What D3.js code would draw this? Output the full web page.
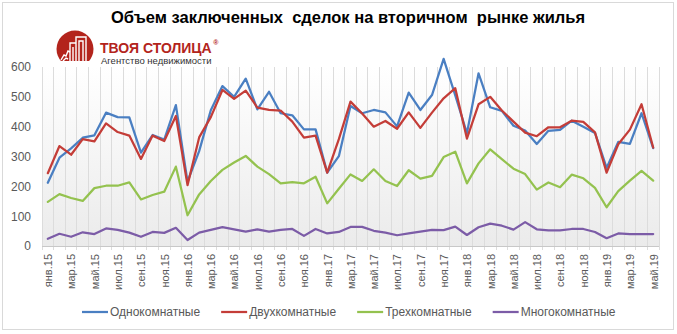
<!DOCTYPE html>
<html><head><meta charset="utf-8">
<script src="https://cdn.jsdelivr.net/npm/d3@7"></script>
<style>
body{margin:0;background:#fff}
svg{display:block}
text{font-family:"Liberation Sans",Arial,sans-serif}
</style>
</head><body>
<svg id="c" width="677" height="334"></svg>
<script>
const categories = [
 "янв.15","фев.15","мар.15","апр.15","май.15","июн.15","июл.15","авг.15","сен.15","окт.15","ноя.15","дек.15",
 "янв.16","фев.16","мар.16","апр.16","май.16","июн.16","июл.16","авг.16","сен.16","окт.16","ноя.16","дек.16",
 "янв.17","фев.17","мар.17","апр.17","май.17","июн.17","июл.17","авг.17","сен.17","окт.17","ноя.17","дек.17",
 "янв.18","фев.18","мар.18","апр.18","май.18","июн.18","июл.18","авг.18","сен.18","окт.18","ноя.18","дек.18",
 "янв.19","фев.19","мар.19","апр.19","май.19"];
const oneRoom = [212,296,327,363,371,447,432,431,313,372,357,472,
 216,318,455,536,500,561,458,517,445,438,391,391,
 246,301,469,445,456,448,401,514,456,506,627,505,
 378,579,465,453,403,387,342,386,389,420,400,379,
 262,349,342,445,328];
const twoRoom = [244,335,306,358,351,411,382,370,292,370,352,436,
 204,364,432,523,493,521,464,456,454,417,363,370,
 246,358,484,444,400,419,393,448,396,447,495,529,
 360,475,500,454,417,380,368,398,398,420,416,381,
 246,341,390,475,330];
const threeRoom = [148,174,161,151,194,202,202,213,156,171,182,266,
 103,173,218,255,280,302,266,241,210,214,210,232,
 143,192,240,218,257,218,201,254,226,235,298,316,
 210,277,324,291,259,241,189,213,197,239,227,195,
 130,184,219,252,219];
const multiRoom = [24,41,31,46,40,59,54,45,31,47,44,61,
 20,45,54,63,56,48,56,48,54,57,34,57,
 42,47,64,64,51,45,36,42,48,54,53,65,
 37,63,75,68,55,80,56,52,52,57,57,47,
 26,42,40,40,40];
const seriesNames = ["Однокомнатные","Двухкомнатные","Трехкомнатные","Многокомнатные"];
const seriesColors = ["#4a7fc2","#c43d38","#94c24f","#7c5ca7"];
const yTicks = [0,100,200,300,400,500,600];
const xTickLabels = categories.filter((c,i)=>i%2===0);
const titleText = "Объем заключенных  сделок на вторичном  рынке жилья";

const svg = d3.select("#c");
const W=677,H=334;
const plot = {l:42,r:659,t:67,b:246};

svg.append("rect").attr("x",2.5).attr("y",2.5).attr("width",W-6).attr("height",H-7)
  .attr("fill","#fff").attr("stroke","#d9d9d9");

const defs = svg.append("defs");
const grad = defs.append("linearGradient").attr("id","bg").attr("x1",0).attr("y1",0).attr("x2",0).attr("y2",1);
grad.append("stop").attr("offset","0%").attr("stop-color","#ffffff");
grad.append("stop").attr("offset","100%").attr("stop-color","#ebebeb");

svg.append("rect").attr("x",plot.l).attr("y",plot.t).attr("width",plot.r-plot.l).attr("height",plot.b-plot.t)
  .attr("fill","url(#bg)");

const xb = d3.scaleBand().domain(categories).range([plot.l,plot.r]).paddingInner(0).paddingOuter(0);
const x = d3.scalePoint().domain(categories).range([plot.l,plot.r]).padding(0.5);
const y = d3.scaleLinear().domain([0,600]).range([plot.b,plot.t]);

// vertical gridlines at category boundaries
const bounds = categories.map(c=>xb(c)).concat([xb(categories[categories.length-1])+xb.bandwidth()]);
svg.append("g").selectAll("line").data(bounds).join("line")
  .attr("x1",d=>d).attr("x2",d=>d).attr("y1",plot.t).attr("y2",plot.b+4)
  .attr("stroke","#dcdcdc").attr("stroke-width",1).attr("shape-rendering","crispEdges");

// x axis line
svg.append("line").attr("x1",plot.l).attr("x2",plot.r).attr("y1",plot.b+0.5).attr("y2",plot.b+0.5)
  .attr("stroke","#c8c8c8");

// x labels
const xAxis = svg.append("g").attr("transform",`translate(0,${plot.b})`)
  .call(d3.axisBottom(x).tickValues(xTickLabels).tickSize(0).tickPadding(0));
xAxis.select(".domain").remove();
xAxis.selectAll("text").attr("transform","rotate(-90)").attr("text-anchor","end")
  .attr("x",-8).attr("y",0).attr("dy","0.35em")
  .attr("fill","#595959").style("font-size","11px");

// y axis
const yAxis = svg.append("g").attr("transform",`translate(${plot.l},0)`)
  .call(d3.axisLeft(y).tickValues(yTicks).tickSize(0).tickPadding(11));
yAxis.select(".domain").remove();
yAxis.selectAll("text").attr("fill","#595959").style("font-size","12px");

// lines
const allSeries = [oneRoom,twoRoom,threeRoom,multiRoom];
const line = d3.line().x((d,i)=>x(categories[i])).y(d=>y(d));
svg.append("g").selectAll("path").data(allSeries).join("path")
  .attr("d",line).attr("fill","none")
  .attr("stroke",(d,i)=>seriesColors[i]).attr("stroke-width",2.25)
  .attr("stroke-linejoin","round").attr("stroke-linecap","round");

// title
svg.append("text").attr("x",348).attr("y",23).attr("text-anchor","middle")
  .style("white-space","pre").attr("xml:space","preserve")
  .style("font-size","16.5px").style("font-weight","bold").attr("fill","#000").text(titleText);

// logo
const logo = svg.append("g");
defs.append("clipPath").attr("id","lc").append("rect").attr("x",40).attr("y",20).attr("width",80).attr("height",41);
const lg = logo.append("g").attr("clip-path","url(#lc)");
lg.append("circle").attr("cx",75).attr("cy",49).attr("r",18.5).attr("fill","#b3241c");
const ic = lg.append("g").attr("fill","none").attr("stroke","#fff").attr("stroke-width",1.4);
ic.append("path").attr("d","M76 61 V37 H86 V61");
ic.append("path").attr("d","M79 61 V41 H83 V61");
ic.append("path").attr("d","M70 61 V43 H76");
ic.append("path").attr("d","M73 61 V47");
ic.append("path").attr("d","M61 60 L64 55 L66 56 L68 51 L70 52");
ic.append("path").attr("d","M63 61 L66 58 L68 59");
const brand = logo.append("text").attr("x",100).attr("y",52.5).style("font-size","14px").style("font-weight","bold")
  .attr("fill","#b3241c").text("ТВОЯ СТОЛИЦА");
const bEnd = 100 + brand.node().getComputedTextLength();
logo.append("text").attr("x",bEnd+1.5).attr("y",45).style("font-size","7px").style("font-weight","bold")
  .attr("fill","#b3241c").text("®");
logo.append("text").attr("x",101).attr("y",63.5).style("font-size","9.5px")
  .attr("fill","#333").text("Агентство недвижимости");

// legend
const leg = svg.append("g");
let lx = 82;
seriesNames.forEach((n,i)=>{
  leg.append("line").attr("x1",lx).attr("x2",lx+26).attr("y1",312).attr("y2",312)
    .attr("stroke",seriesColors[i]).attr("stroke-width",2.25);
  const t = leg.append("text").attr("x",lx+28).attr("y",312).attr("dy","0.35em")
    .style("font-size","12px").attr("fill","#595959").text(n);
  lx = lx + 28 + t.node().getComputedTextLength() + 21;
});
</script>
</body></html>
